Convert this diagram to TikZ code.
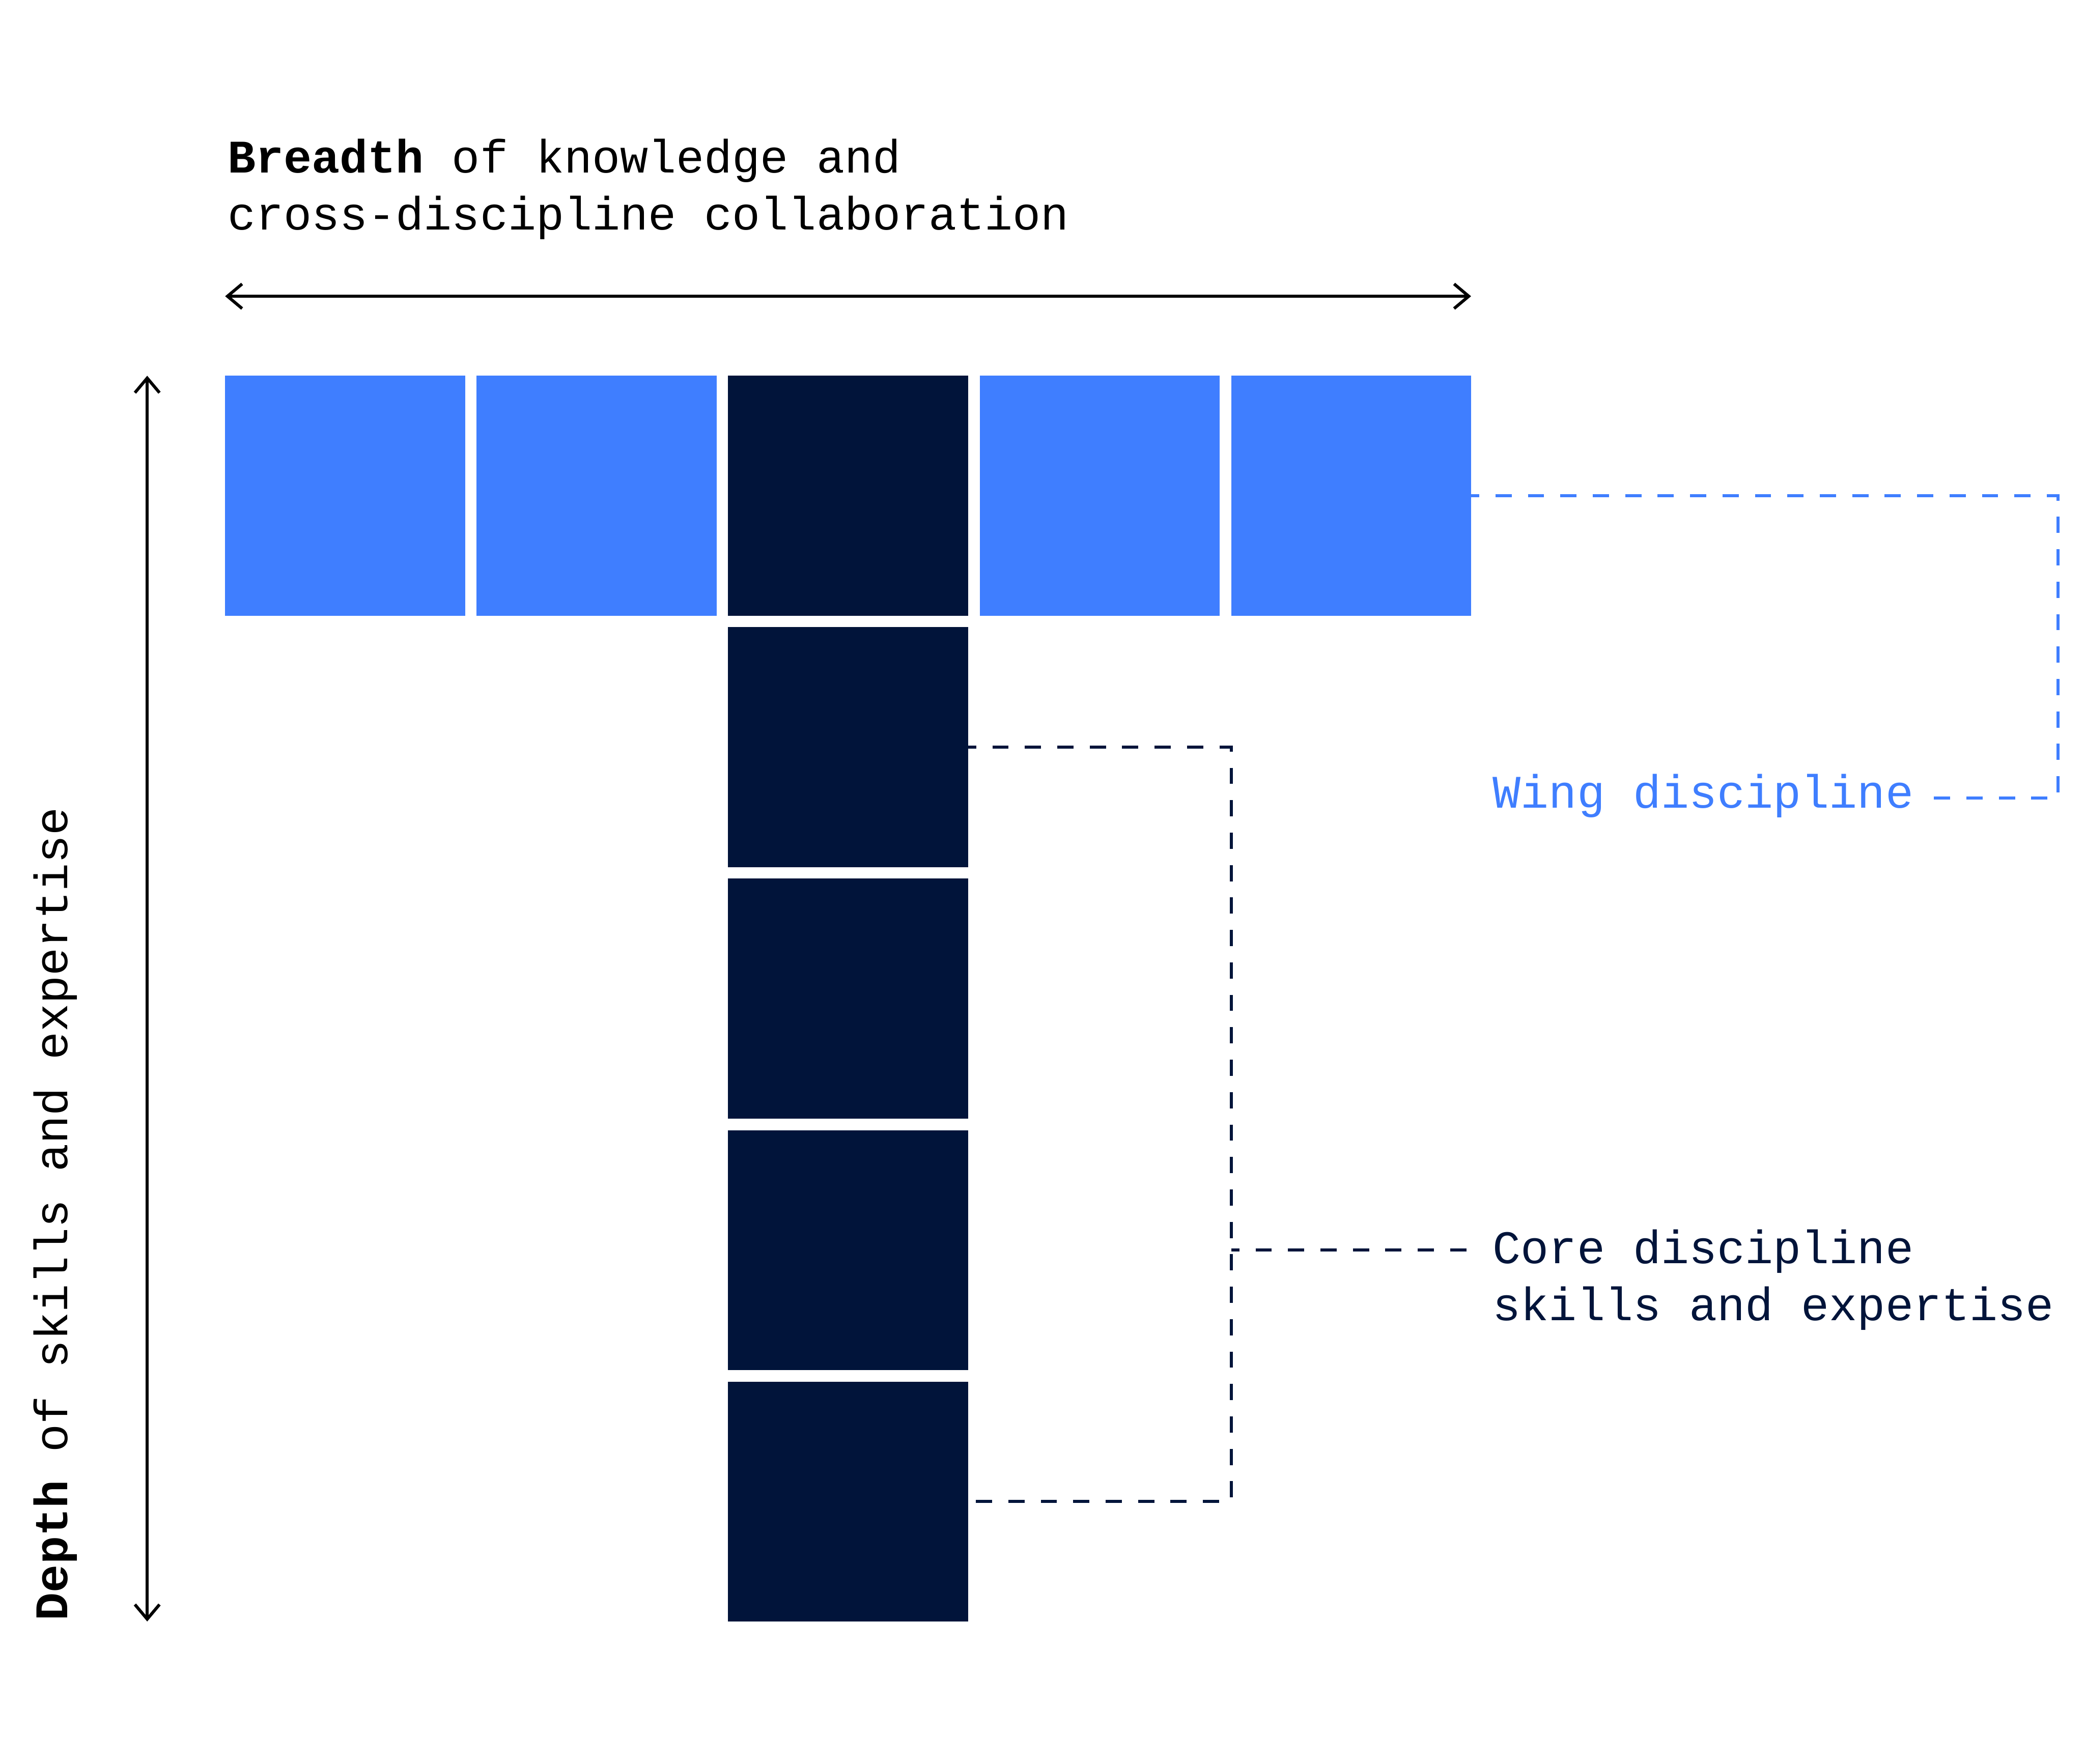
\documentclass[tikz,border=0pt]{standalone}
\usepackage{fontspec}
\setmonofont{Liberation Mono}
\usepackage{tikz}
\usetikzlibrary{positioning,arrows.meta,calc}
\definecolor{wingblue}{RGB}{63,126,255}
\definecolor{corenavy}{RGB}{1,20,58}
\tikzset{
  wsq/.style={rectangle, fill=wingblue, minimum size=1.804cm, inner sep=0pt, outer sep=0pt},
  csq/.style={rectangle, fill=corenavy, minimum size=1.804cm, inner sep=0pt, outer sep=0pt},
  lbl/.style={font=\ttfamily\fontsize{10pt}{12.2pt}\selectfont, inner sep=0pt, align=left},
  dimarr/.style={{Straight Barb[length=1.1mm,width=1.85mm]}-{Straight Barb[length=1.1mm,width=1.85mm]}, line width=0.65pt},
  wingdash/.style={draw=wingblue, line width=0.65pt, dash pattern=on 3.47pt off 3.47pt, dash phase=1.73pt},
  coredash/.style={draw=corenavy, line width=0.65pt, dash pattern=on 3.47pt off 3.47pt, dash phase=1.73pt},
}

\begin{document}
\begin{tikzpicture}[node distance=0.0875cm]
\useasboundingbox (0,0) rectangle (15.68,-13.265);
\node[wsq] (w1) at (2.595,-3.728) {};
\node[wsq, right=of w1] (w2) {};
\node[csq, right=of w2] (k0) {};
\node[wsq, right=of k0] (w3) {};
\node[wsq, right=of w3] (w4) {};
\foreach \i [count=\j from 0] in {1,...,4}
  \node[csq, below=of k\j] (k\i) {};
\coordinate[above=0.598cm of w1.north west] (bl);
\coordinate[above=0.598cm of w4.north east] (br);
\coordinate[left=0.586cm of w1.north west] (dt);
\coordinate (db) at (dt |- k4.south);
\draw[dimarr] (bl) -- (br);
\draw[dimarr] (dt) -- (db);
\node[lbl, anchor=base west] (breadth) at ($(bl)+(0.012,0.498)$) {\textbf{Breadth} of knowledge and\\cross-discipline collaboration};
\node[lbl, rotate=90, anchor=base west] (depth) at ($(db)+(-0.599,0)$) {\textbf{Depth} of skills and expertise};
\node[lbl, text=wingblue, inner xsep=0.1cm, anchor=mid west] (wing) at ($(w4.south east)+(0.057,-1.372)$) {Wing discipline};
\coordinate[right=0.98cm of wing.mid east] (wc);
\draw[wingdash] (w4.east) -| (wc) -- (wing.mid east);
\coordinate (brk) at (w4.west |- k3.east);
\coordinate (ctk) at (w4.east |- k3.east);
\node[lbl, text=corenavy, anchor=base west] (core) at ($(ctk)+(0.157,-0.53)$) {Core discipline\\skills and expertise};
\draw[coredash] (k1.east) -| (brk) |- (k4.east);
\draw[coredash] (brk) -- (ctk);
\end{tikzpicture}
\end{document}
